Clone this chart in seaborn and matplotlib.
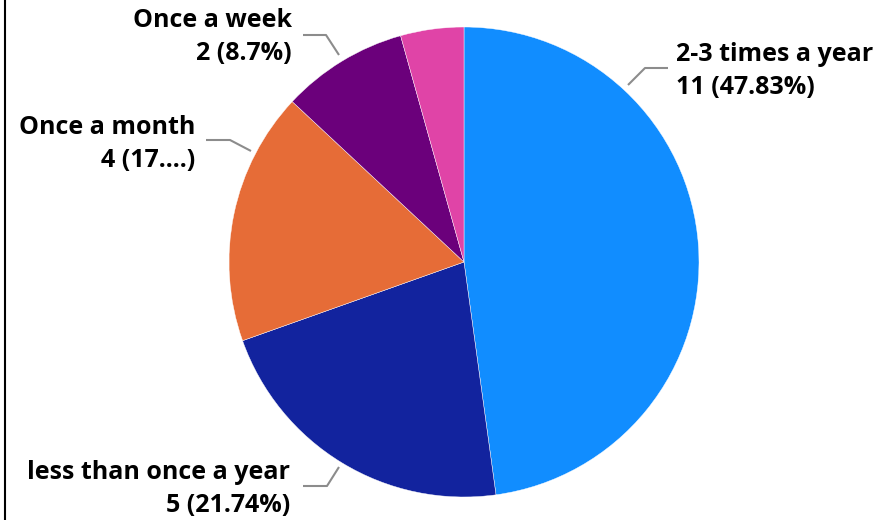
import matplotlib
matplotlib.use("Agg")
import matplotlib.pyplot as plt
import seaborn as sns
import numpy as np

categories = ["2-3 times a year", "less than once a year", "Once a month", "Once a week", "Once a year"]
counts = [11, 5, 4, 2, 1]
label_texts = ["2-3 times a year\n11 (47.83%)", "less than once a year\n5 (21.74%)",
               "Once a month\n4 (17....)", "Once a week\n2 (8.7%)", None]
colors = ["#118DFF", "#12239E", "#E66C37", "#6B007B", "#E044A7"]

sns.set_theme(style="white")
plt.rcParams['font.family'] = ['Open Sans', 'DejaVu Sans']

W, H = 883, 520
fig = plt.figure(figsize=(W / 100, H / 100), dpi=100)
cx, cy, R = 464, 262, 235
ax = fig.add_axes([(cx - R) / W, (H - cy - R) / H, 2 * R / W, 2 * R / H])
ax.pie(counts, colors=colors, startangle=90, counterclock=False, radius=1,
       wedgeprops=dict(edgecolor="white", linewidth=0.3))
ax.set_xlim(-1, 1)
ax.set_ylim(-1, 1)
ax.set_aspect("equal")
ax.axis("off")

def d(px, py):
    return ((px - cx) / R, (cy - py) / R)

# leader lines (pixel layout) and label anchors
leaders = [
    [(628, 85), (645, 68), (668, 68)],
    [(339, 467), (327, 486), (303, 486)],
    [(251, 151), (230, 140), (206, 140)],
    [(339, 55), (326, 35), (303, 35)],
]
anchors = [((676, 71), "left"), ((290, 489), "right"), ((195, 144), "right"), ((292, 37), "right")]

for i, txt in enumerate(label_texts):
    if txt is None:
        continue
    pts = np.array([d(*p) for p in leaders[i]])
    ax.plot(pts[:, 0], pts[:, 1], color="#8C8C8C", lw=1.5, clip_on=False,
            solid_capstyle="butt")
    (px, py), ha = anchors[i]
    x, y = d(px, py)
    ax.text(x, y, txt, ha=ha, va="center", multialignment=ha, fontsize=18,
            fontweight="bold", color="black", linespacing=1.45, clip_on=False)

# left border line
fig.add_artist(plt.Line2D([4.5 / W, 4.5 / W], [0, 1], color="black", lw=1.5,
                          transform=fig.transFigure))

fig.savefig("out.png", dpi=100)
